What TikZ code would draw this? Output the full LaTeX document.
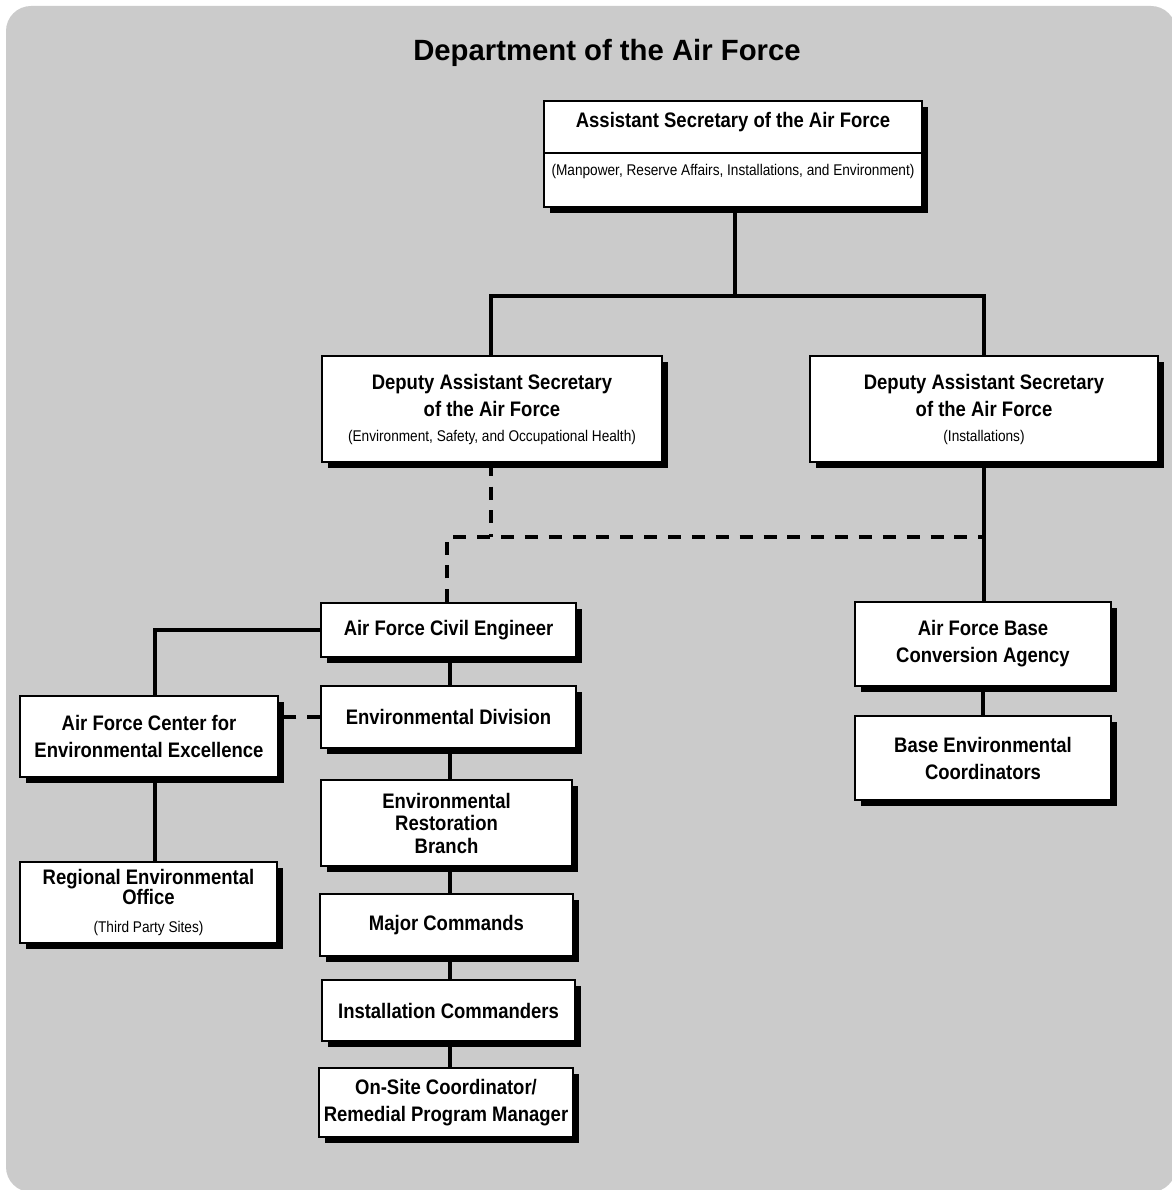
\documentclass[tikz,border=0pt]{standalone}
\usepackage{fontspec}
\setmainfont{Liberation Sans}
\newfontfamily\narrowfont[FakeStretch=0.88]{Liberation Sans}
\usetikzlibrary{shadows}
\definecolor{bggray}{HTML}{CBCBCB}
\pgfdeclarelayer{bglayer}
\pgfdeclarelayer{lines}
\pgfsetlayers{bglayer,lines,main}
\newcommand{\subfont}{\narrowfont\mdseries\fontsize{15.5}{18}\selectfont}
\begin{document}
\begin{tikzpicture}[x=1pt,y=-1pt,
  box/.style={draw=black, line width=1.5pt, fill=white,
    drop shadow={shadow xshift=6pt, shadow yshift=-6pt, fill=black, opacity=1},
    align=center, inner sep=0pt,
    font=\narrowfont\bfseries\fontsize{21}{27}\selectfont},
  subtext/.style={font=\subfont, inner sep=0pt},
  boldtext/.style={font=\narrowfont\bfseries\fontsize{21}{27}\selectfont, inner sep=0pt},
  conn/.style={line width=4pt},
  dconn/.style={line width=4.5pt, dash pattern=on 13pt off 10.86pt}
]
\useasboundingbox (0,0) rectangle (1171,1190);
\begin{pgfonlayer}{bglayer}
\fill[bggray, rounded corners=25pt] (6,6) rectangle (1176,1192);
\end{pgfonlayer}

\node[font=\bfseries\fontsize{29.3}{33}\selectfont] (title) at (607,53) {Department of the Air Force};

% Assistant Secretary box
\node[box, minimum width=378pt, minimum height=106pt] (asaf) at (733,154) {};
\node[boldtext] (asaft) at (733,122) {Assistant Secretary of the Air Force};
\node[subtext] (asafs) at (733,171) {(Manpower, Reserve Affairs, Installations, and Environment)};
\draw[line width=1.5pt] (asaf.west |- 0,153) -- (asaf.east |- 0,153);

\node[box, minimum width=340pt, minimum height=106pt] (dasl) at (492,409)
  {Deputy Assistant Secretary\\of the Air Force\\[-2pt]{\subfont (Environment, Safety, and Occupational Health)}};
\node[box, minimum width=348pt, minimum height=106pt] (dasr) at (984,409)
  {Deputy Assistant Secretary\\of the Air Force\\[-2pt]{\subfont (Installations)}};

\node[box, minimum width=255pt, minimum height=54pt] (afce) at (448.5,630) {Air Force Civil Engineer};
\node[box, minimum width=258pt, minimum height=81pt] (afcee) at (149,736.5) {Air Force Center for\\Environmental Excellence};
\node[box, minimum width=255pt, minimum height=62pt] (envdiv) at (448.5,717) {Environmental Division};
\node[box, minimum width=251pt, minimum height=86pt, font=\narrowfont\bfseries\fontsize{21}{22.5}\selectfont] (erb) at (446.5,823) {Environmental\\Restoration\\Branch};
\node[box, minimum width=253pt, minimum height=62pt] (majcom) at (446.5,925) {Major Commands};
\node[box, minimum width=253pt, minimum height=61pt] (instcom) at (448.5,1010.5) {Installation Commanders};
\node[box, minimum width=254pt, minimum height=69pt] (osc) at (446,1102.5) {On-Site Coordinator/\\Remedial Program Manager};
\node[box, minimum width=257pt, minimum height=81pt, font=\narrowfont\bfseries\fontsize{21}{20}\selectfont] (reo) at (148.5,902.5)
  {Regional Environmental\\Office\\[8pt]{\subfont (Third Party Sites)}};
\node[box, minimum width=256pt, minimum height=84pt] (afbca) at (983,644) {Air Force Base\\Conversion Agency};
\node[box, minimum width=256pt, minimum height=84pt] (bec) at (983,758) {Base Environmental\\Coordinators};

\coordinate (j1) at (735,296);
\coordinate (d1) at (447,537);
\coordinate (l1) at (155,630);
\coordinate (c1) at (450,0);

\begin{pgfonlayer}{lines}
\draw[conn] (asaf.south -| j1) -- (j1);
\draw[conn] (dasl.north -| 491,0) |- (j1) -| (dasr.north);
\draw[dconn] (dasl.south -| 491,0) -- (491,537);
\draw[dconn] (afce.north -| d1) -- (d1) -- (d1 -| dasr.south);
\draw[conn] (dasr.south) -- (afbca.north -| dasr.south);
\draw[conn] (afbca.south) -- (bec.north);
\draw[conn] (afce.west) -- (l1) -- (afcee.north -| l1);
\draw[conn] (afcee.south -| l1) -- (reo.north -| l1);
\draw[dconn] (envdiv.west) -- (envdiv.west -| afcee.east);
\draw[conn] (afce.south -| c1) -- (envdiv.north -| c1);
\draw[conn] (envdiv.south -| c1) -- (erb.north -| c1);
\draw[conn] (erb.south -| c1) -- (majcom.north -| c1);
\draw[conn] (majcom.south -| c1) -- (instcom.north -| c1);
\draw[conn] (instcom.south -| c1) -- (osc.north -| c1);
\end{pgfonlayer}
\end{tikzpicture}
\end{document}
